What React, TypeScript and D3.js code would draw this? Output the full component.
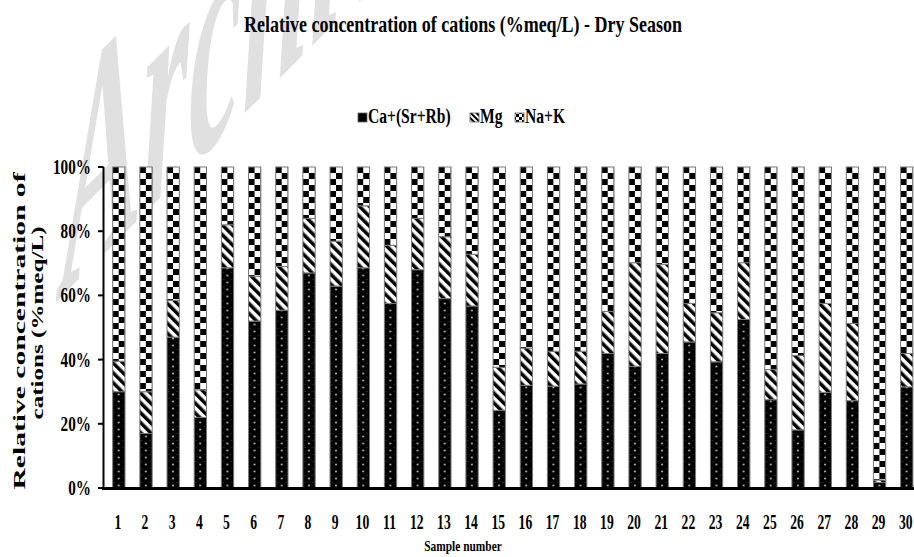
import React from "react";
import * as d3 from "d3";

const samples = ["1","2","3","4","5","6","7","8","9","10","11","12","13","14","15","16","17","18","19","20","21","22","23","24","25","26","27","28","29","30"];
const caSrRb = [30,17,47,22,68.6,52,55.4,67,62.9,68.6,57.5,68,59,56.7,24.2,32,31.7,32.4,41.9,37.9,41.9,45.5,39.3,52.5,27.5,18.1,29.8,27.2,1.7,31.5];
const mg = [9.5,13,11.5,8.6,13.4,14,13.6,17,14,19.3,18.1,16,19.3,16.1,13.4,11.6,10.9,10.2,13.1,32.3,27.8,12,15.3,17.7,9.4,23.15,27.7,24.05,0.8,10.4];
const naK = caSrRb.map((c, i) => 100 - c - mg[i]);
const seriesKeys = ["Ca+(Sr+Rb)", "Mg", "Na+K"];
const yTicks = [0, 0.2, 0.4, 0.6, 0.8, 1];

const W = 914, H = 557;
const SX = 0.76;
const FONT = "'Liberation Serif', 'Times New Roman', serif";

export default function App() {
  const rows = samples.map((s, i) => ({ sample: s, "Ca+(Sr+Rb)": caSrRb[i], Mg: mg[i], "Na+K": naK[i] }));
  const stack = d3.stack<any>().keys(seriesKeys).offset(d3.stackOffsetExpand)(rows);
  const x = d3.scaleBand<string>().domain(samples).range([104, 921.6]).paddingInner(0.547).paddingOuter(0.32);
  const y = d3.scaleLinear().domain([0, 1]).range([488, 167]);
  const bw = x.bandwidth();
  const fills = ["url(#pCa)", "url(#pMg)", "url(#pNa)"];
  const legendX = [358, 470, 515];
  const legendTextX = [368, 480, 525];

  return (
    <svg width={W} height={H} style={{ position: "absolute", left: 0, top: 0, background: "#fff" }} fontFamily={FONT}>
      <defs>
        <pattern id="pCa" patternUnits="userSpaceOnUse" width="12" height="7">
          <rect width="12" height="7" fill="#000" />
          <circle cx="6" cy="3.5" r="0.9" fill="#cfcfcf" />
          <circle cx="2" cy="0.5" r="0.5" fill="#555" />
          <circle cx="10" cy="0.5" r="0.5" fill="#555" />
        </pattern>
        <pattern id="pMg" patternUnits="userSpaceOnUse" width="7" height="7" patternTransform="rotate(-45)">
          <rect width="7" height="7" fill="#fff" />
          <rect width="3.5" height="7" fill="#000" />
        </pattern>
        <pattern id="pNa" patternUnits="userSpaceOnUse" width="12" height="12">
          <rect width="12" height="12" fill="#fff" />
          <rect x="0" y="0" width="6" height="6" fill="#000" />
          <rect x="6" y="6" width="6" height="6" fill="#000" />
        </pattern>
        <pattern id="lMg" patternUnits="userSpaceOnUse" width="4" height="4" patternTransform="rotate(-45)">
          <rect width="4" height="4" fill="#fff" />
          <rect width="2" height="4" fill="#000" />
        </pattern>
        <pattern id="lNa" patternUnits="userSpaceOnUse" width="6" height="6">
          <rect width="6" height="6" fill="#fff" />
          <rect x="0" y="0" width="3" height="3" fill="#000" />
          <rect x="3" y="3" width="3" height="3" fill="#000" />
        </pattern>
      </defs>

      {/* watermark */}
      <text transform="translate(62,296) rotate(-45) skewX(-45) scale(1,1.3)" fontSize={170} fontStyle="italic" fontWeight="bold" fill="#e0e0e0">Archive</text>

      {/* title */}
      <text x={244} y={32} fontSize={24} fontWeight="bold" textLength={438} lengthAdjust="spacingAndGlyphs">
        Relative concentration of cations (%meq/L) - Dry Season
      </text>

      {/* legend */}
      {seriesKeys.map((k, i) => (
        <g key={k}>
          <rect x={legendX[i]} y={113} width={9} height={9} fill={i === 0 ? "#000" : i === 1 ? "url(#lMg)" : "url(#lNa)"} stroke="#666" strokeWidth={0.8} />
          <text transform={`translate(${legendTextX[i]},123) scale(0.78,1)`} fontSize={20} fontWeight="bold">{k}</text>
        </g>
      ))}

      {/* bars */}
      {stack.map((layer, li) =>
        layer.map((d, i) => {
          const x0 = x(samples[i]) as number;
          return (
            <g key={`${li}-${i}`} transform={`translate(${x0},167)`}>
              <rect x={0} y={y(d[1]) - 167} width={bw} height={Math.max(0, y(d[0]) - y(d[1]))} fill={fills[li]} stroke="#7a7a7a" strokeWidth={1} />
            </g>
          );
        })
      )}

      {/* axes */}
      <line x1={103.5} x2={103.5} y1={167} y2={489} stroke="#000" strokeWidth={2} />
      <line x1={102} x2={W} y1={488.5} y2={488.5} stroke="#000" strokeWidth={3} />
      {yTicks.map(t => (
        <g key={t}>
          <line x1={98} x2={103.5} y1={y(t)} y2={y(t)} stroke="#000" strokeWidth={2} />
          <text transform={`translate(91,${y(t) + 7}) scale(${SX},1)`} textAnchor="end" fontSize={20} fontWeight="bold">{d3.format(".0%")(t)}</text>
        </g>
      ))}
      {samples.map(s => (
        <text key={s} transform={`translate(${(x(s) as number) + bw / 2 - 1},529) scale(0.62,1)`} textAnchor="middle" fontSize={22} fontWeight="bold">{s}</text>
      ))}
      <text transform={`translate(463,551) scale(${SX},1)`} textAnchor="middle" fontSize={15} fontWeight="bold">Sample number</text>

      {/* y label */}
      <g transform={`translate(25,331) scale(${SX},1) rotate(-90)`}>
        <text textAnchor="middle" fontSize={22} fontWeight="bold" textLength={317} lengthAdjust="spacingAndGlyphs">Relative concentration of</text>
      </g>
      <g transform={`translate(43,323) scale(${SX},1) rotate(-90)`}>
        <text textAnchor="middle" fontSize={22} fontWeight="bold" textLength={193} lengthAdjust="spacingAndGlyphs">cations (%meq/L)</text>
      </g>
    </svg>
  );
}
